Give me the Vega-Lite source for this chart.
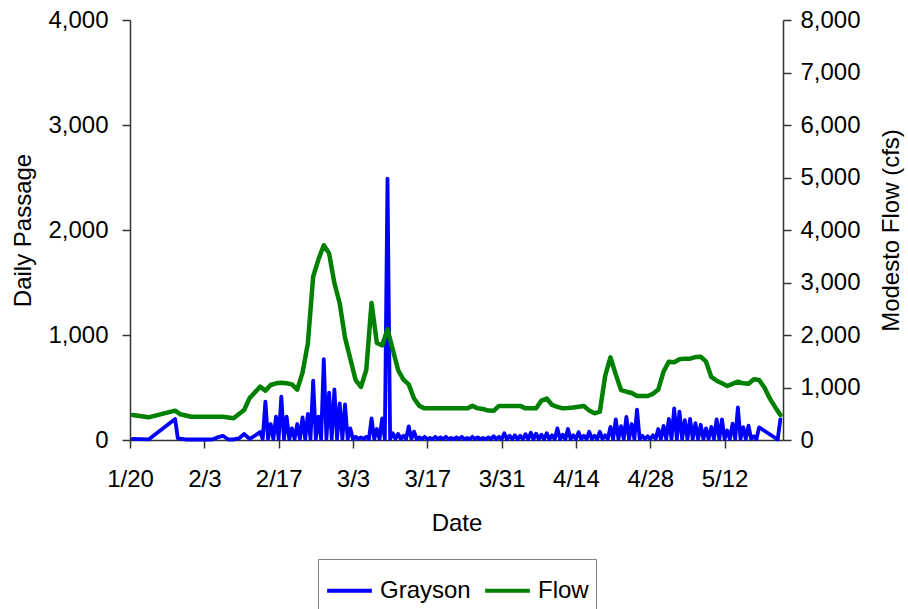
{
"$schema": "https://vega.github.io/schema/vega-lite/v6.json",
"width": 653, "height": 420,
"autosize": {"type": "none"},
"padding": {"left": 130, "top": 20, "right": 125, "bottom": 169},
"background": "white",
"config": {
  "view": {"stroke": null},
  "font": "Liberation Sans",
  "axis": {"grid": false, "domainColor": "#333333", "domainWidth": 1.5, "tickColor": "#333333", "tickWidth": 1.5, "tickSize": 8,
           "labelFont": "Liberation Sans", "labelFontSize": 24, "labelColor": "#000000",
           "titleFont": "Liberation Sans", "titleFontSize": 24, "titleFontWeight": "normal", "titleColor": "#000000"},
  "legend": {"labelFont": "Liberation Sans", "labelFontSize": 24, "labelColor": "#000000"}
},
"datasets": {
"grayson": [
{"t":"2007-01-20T12:00","v":10},{"t":"2007-01-23T12:00","v":5},{"t":"2007-01-28T12:00","v":200},{"t":"2007-01-29T00:00","v":16},
{"t":"2007-01-30T12:00","v":5},{"t":"2007-02-04T12:00","v":5},{"t":"2007-02-05T12:00","v":25},{"t":"2007-02-06T12:00","v":40},
{"t":"2007-02-07T12:00","v":5},{"t":"2007-02-08T12:00","v":5},{"t":"2007-02-09T12:00","v":15},{"t":"2007-02-10T12:00","v":57},
{"t":"2007-02-11T12:00","v":10},{"t":"2007-02-12T12:00","v":40},{"t":"2007-02-13T12:00","v":75},
{"t":"2007-02-14T00:00","v":10},{"t":"2007-02-14T12:00","v":365},
{"t":"2007-02-15T00:00","v":10},{"t":"2007-02-15T12:00","v":152},
{"t":"2007-02-16T00:00","v":10},{"t":"2007-02-16T12:00","v":222},
{"t":"2007-02-17T00:00","v":10},{"t":"2007-02-17T12:00","v":413},
{"t":"2007-02-18T00:00","v":10},{"t":"2007-02-18T12:00","v":222},
{"t":"2007-02-19T00:00","v":10},{"t":"2007-02-19T12:00","v":111},
{"t":"2007-02-20T00:00","v":10},{"t":"2007-02-20T12:00","v":152},
{"t":"2007-02-21T00:00","v":10},{"t":"2007-02-21T12:00","v":216},
{"t":"2007-02-22T00:00","v":10},{"t":"2007-02-22T12:00","v":248},
{"t":"2007-02-23T00:00","v":10},{"t":"2007-02-23T12:00","v":565},
{"t":"2007-02-24T00:00","v":10},{"t":"2007-02-24T12:00","v":222},
{"t":"2007-02-25T00:00","v":10},{"t":"2007-02-25T12:00","v":771},
{"t":"2007-02-26T00:00","v":10},{"t":"2007-02-26T12:00","v":451},
{"t":"2007-02-27T00:00","v":10},{"t":"2007-02-27T12:00","v":483},
{"t":"2007-02-28T00:00","v":10},{"t":"2007-02-28T12:00","v":349},
{"t":"2007-03-01T00:00","v":10},{"t":"2007-03-01T12:00","v":340},
{"t":"2007-03-02T00:00","v":10},{"t":"2007-03-02T12:00","v":111},
{"t":"2007-03-03T00:00","v":10},{"t":"2007-03-03T12:00","v":30},
{"t":"2007-03-04T00:00","v":10},{"t":"2007-03-04T12:00","v":25},
{"t":"2007-03-05T00:00","v":10},{"t":"2007-03-05T12:00","v":30},
{"t":"2007-03-06T00:00","v":10},{"t":"2007-03-06T12:00","v":206},
{"t":"2007-03-07T00:00","v":10},{"t":"2007-03-07T12:00","v":105},
{"t":"2007-03-08T00:00","v":10},{"t":"2007-03-08T12:00","v":206},
{"t":"2007-03-09T00:00","v":10},{"t":"2007-03-09T12:00","v":2490},
{"t":"2007-03-10T00:00","v":10},{"t":"2007-03-10T12:00","v":65},
{"t":"2007-03-11T00:00","v":10},{"t":"2007-03-11T12:00","v":57},
{"t":"2007-03-12T00:00","v":10},{"t":"2007-03-12T12:00","v":40},
{"t":"2007-03-13T00:00","v":10},{"t":"2007-03-13T12:00","v":130},
{"t":"2007-03-14T00:00","v":10},{"t":"2007-03-14T12:00","v":80},
{"t":"2007-03-15T00:00","v":8},{"t":"2007-03-15T12:00","v":25},
{"t":"2007-03-16T00:00","v":8},{"t":"2007-03-16T12:00","v":30},
{"t":"2007-03-17T00:00","v":8},{"t":"2007-03-17T12:00","v":20},
{"t":"2007-03-18T00:00","v":8},{"t":"2007-03-18T12:00","v":30},
{"t":"2007-03-19T00:00","v":8},{"t":"2007-03-19T12:00","v":25},
{"t":"2007-03-20T00:00","v":8},{"t":"2007-03-20T12:00","v":30},
{"t":"2007-03-21T00:00","v":8},{"t":"2007-03-21T12:00","v":20},
{"t":"2007-03-22T00:00","v":8},{"t":"2007-03-22T12:00","v":25},
{"t":"2007-03-23T00:00","v":8},{"t":"2007-03-23T12:00","v":30},
{"t":"2007-03-24T00:00","v":8},{"t":"2007-03-24T12:00","v":20},
{"t":"2007-03-25T00:00","v":8},{"t":"2007-03-25T12:00","v":30},
{"t":"2007-03-26T00:00","v":8},{"t":"2007-03-26T12:00","v":25},
{"t":"2007-03-27T00:00","v":8},{"t":"2007-03-27T12:00","v":20},
{"t":"2007-03-28T00:00","v":8},{"t":"2007-03-28T12:00","v":25},
{"t":"2007-03-29T00:00","v":8},{"t":"2007-03-29T12:00","v":35},
{"t":"2007-03-30T00:00","v":8},{"t":"2007-03-30T12:00","v":30},
{"t":"2007-03-31T00:00","v":8},{"t":"2007-03-31T12:00","v":65},
{"t":"2007-04-01T00:00","v":8},{"t":"2007-04-01T12:00","v":40},
{"t":"2007-04-02T00:00","v":8},{"t":"2007-04-02T12:00","v":45},
{"t":"2007-04-03T00:00","v":8},{"t":"2007-04-03T12:00","v":40},
{"t":"2007-04-04T00:00","v":8},{"t":"2007-04-04T12:00","v":55},
{"t":"2007-04-05T00:00","v":8},{"t":"2007-04-05T12:00","v":70},
{"t":"2007-04-06T00:00","v":8},{"t":"2007-04-06T12:00","v":60},
{"t":"2007-04-07T00:00","v":8},{"t":"2007-04-07T12:00","v":50},
{"t":"2007-04-08T00:00","v":8},{"t":"2007-04-08T12:00","v":65},
{"t":"2007-04-09T00:00","v":8},{"t":"2007-04-09T12:00","v":45},
{"t":"2007-04-10T00:00","v":8},{"t":"2007-04-10T12:00","v":110},
{"t":"2007-04-11T00:00","v":8},{"t":"2007-04-11T12:00","v":50},
{"t":"2007-04-12T00:00","v":8},{"t":"2007-04-12T12:00","v":105},
{"t":"2007-04-13T00:00","v":8},{"t":"2007-04-13T12:00","v":45},
{"t":"2007-04-14T00:00","v":8},{"t":"2007-04-14T12:00","v":75},
{"t":"2007-04-15T00:00","v":8},{"t":"2007-04-15T12:00","v":40},
{"t":"2007-04-16T00:00","v":8},{"t":"2007-04-16T12:00","v":79},
{"t":"2007-04-17T00:00","v":8},{"t":"2007-04-17T12:00","v":40},
{"t":"2007-04-18T00:00","v":8},{"t":"2007-04-18T12:00","v":79},
{"t":"2007-04-19T00:00","v":8},{"t":"2007-04-19T12:00","v":45},
{"t":"2007-04-20T00:00","v":10},{"t":"2007-04-20T12:00","v":125},
{"t":"2007-04-21T00:00","v":10},{"t":"2007-04-21T12:00","v":197},
{"t":"2007-04-22T00:00","v":10},{"t":"2007-04-22T12:00","v":132},
{"t":"2007-04-23T00:00","v":10},{"t":"2007-04-23T12:00","v":220},
{"t":"2007-04-24T00:00","v":10},{"t":"2007-04-24T12:00","v":152},
{"t":"2007-04-25T00:00","v":10},{"t":"2007-04-25T12:00","v":290},
{"t":"2007-04-26T00:00","v":10},{"t":"2007-04-26T12:00","v":40},
{"t":"2007-04-27T00:00","v":10},{"t":"2007-04-27T12:00","v":35},
{"t":"2007-04-28T00:00","v":10},{"t":"2007-04-28T12:00","v":45},
{"t":"2007-04-29T00:00","v":10},{"t":"2007-04-29T12:00","v":105},
{"t":"2007-04-30T00:00","v":10},{"t":"2007-04-30T12:00","v":135},
{"t":"2007-05-01T00:00","v":10},{"t":"2007-05-01T12:00","v":200},
{"t":"2007-05-02T00:00","v":10},{"t":"2007-05-02T12:00","v":302},
{"t":"2007-05-03T00:00","v":10},{"t":"2007-05-03T12:00","v":270},
{"t":"2007-05-04T00:00","v":10},{"t":"2007-05-04T12:00","v":190},
{"t":"2007-05-05T00:00","v":10},{"t":"2007-05-05T12:00","v":200},
{"t":"2007-05-06T00:00","v":10},{"t":"2007-05-06T12:00","v":160},
{"t":"2007-05-07T00:00","v":10},{"t":"2007-05-07T12:00","v":145},
{"t":"2007-05-08T00:00","v":10},{"t":"2007-05-08T12:00","v":111},
{"t":"2007-05-09T00:00","v":10},{"t":"2007-05-09T12:00","v":125},
{"t":"2007-05-10T00:00","v":10},{"t":"2007-05-10T12:00","v":197},
{"t":"2007-05-11T00:00","v":10},{"t":"2007-05-11T12:00","v":197},
{"t":"2007-05-12T00:00","v":10},{"t":"2007-05-12T12:00","v":90},
{"t":"2007-05-13T00:00","v":10},{"t":"2007-05-13T12:00","v":155},
{"t":"2007-05-14T00:00","v":10},{"t":"2007-05-14T12:00","v":311},
{"t":"2007-05-15T00:00","v":10},{"t":"2007-05-15T12:00","v":123},
{"t":"2007-05-16T00:00","v":10},{"t":"2007-05-16T12:00","v":137},
{"t":"2007-05-17T00:00","v":10},{"t":"2007-05-17T12:00","v":35},
{"t":"2007-05-18T00:00","v":10},{"t":"2007-05-18T12:00","v":120},
{"t":"2007-05-22T00:00","v":5},{"t":"2007-05-22T12:00","v":197}
],
"flow": [
{"t":"2007-01-20T12:00","f":476},{"t":"2007-01-23T12:00","f":432},{"t":"2007-01-28T12:00","f":559},{"t":"2007-01-29T12:00","f":490},
{"t":"2007-01-31T12:00","f":444},{"t":"2007-02-06T12:00","f":444},{"t":"2007-02-08T12:00","f":413},{"t":"2007-02-10T12:00","f":571},
{"t":"2007-02-11T12:00","f":794},{"t":"2007-02-13T12:00","f":1016},{"t":"2007-02-14T12:00","f":940},{"t":"2007-02-15T12:00","f":1048},
{"t":"2007-02-16T12:00","f":1080},{"t":"2007-02-17T12:00","f":1092},{"t":"2007-02-18T12:00","f":1080},{"t":"2007-02-19T12:00","f":1060},
{"t":"2007-02-20T12:00","f":960},{"t":"2007-02-21T12:00","f":1283},{"t":"2007-02-22T12:00","f":1841},{"t":"2007-02-23T12:00","f":3111},
{"t":"2007-02-24T12:00","f":3440},{"t":"2007-02-25T12:00","f":3710},{"t":"2007-02-26T12:00","f":3556},{"t":"2007-02-27T12:00","f":2990},
{"t":"2007-02-28T12:00","f":2604},{"t":"2007-03-01T12:00","f":1950},{"t":"2007-03-03T12:00","f":1143},{"t":"2007-03-04T12:00","f":1010},
{"t":"2007-03-05T12:00","f":1333},{"t":"2007-03-06T12:00","f":2610},{"t":"2007-03-07T12:00","f":1848},{"t":"2007-03-08T12:00","f":1800},
{"t":"2007-03-09T12:00","f":2110},{"t":"2007-03-11T12:00","f":1333},{"t":"2007-03-12T12:00","f":1150},{"t":"2007-03-13T12:00","f":1060},
{"t":"2007-03-14T12:00","f":790},{"t":"2007-03-15T12:00","f":650},{"t":"2007-03-16T12:00","f":603},{"t":"2007-03-24T12:00","f":603},
{"t":"2007-03-25T12:00","f":650},{"t":"2007-03-26T12:00","f":603},{"t":"2007-03-27T12:00","f":590},{"t":"2007-03-28T12:00","f":560},
{"t":"2007-03-29T12:00","f":555},{"t":"2007-03-30T12:00","f":650},{"t":"2007-04-03T12:00","f":650},{"t":"2007-04-04T12:00","f":603},
{"t":"2007-04-06T12:00","f":603},{"t":"2007-04-07T12:00","f":750},{"t":"2007-04-08T12:00","f":790},{"t":"2007-04-09T12:00","f":667},
{"t":"2007-04-10T12:00","f":630},{"t":"2007-04-11T12:00","f":603},{"t":"2007-04-12T12:00","f":610},{"t":"2007-04-13T12:00","f":620},
{"t":"2007-04-14T12:00","f":635},{"t":"2007-04-15T12:00","f":648},{"t":"2007-04-16T12:00","f":560},{"t":"2007-04-17T12:00","f":508},
{"t":"2007-04-18T12:00","f":540},{"t":"2007-04-19T12:00","f":1220},{"t":"2007-04-20T12:00","f":1575},{"t":"2007-04-21T12:00","f":1250},
{"t":"2007-04-22T12:00","f":950},{"t":"2007-04-23T12:00","f":920},{"t":"2007-04-24T12:00","f":895},{"t":"2007-04-25T12:00","f":838},
{"t":"2007-04-26T12:00","f":838},{"t":"2007-04-27T12:00","f":838},{"t":"2007-04-28T12:00","f":880},{"t":"2007-04-29T12:00","f":960},
{"t":"2007-04-30T12:00","f":1302},{"t":"2007-05-01T12:00","f":1492},{"t":"2007-05-02T12:00","f":1480},{"t":"2007-05-03T12:00","f":1537},
{"t":"2007-05-04T12:00","f":1550},{"t":"2007-05-05T12:00","f":1550},{"t":"2007-05-06T12:00","f":1580},{"t":"2007-05-07T12:00","f":1587},
{"t":"2007-05-08T12:00","f":1492},{"t":"2007-05-09T12:00","f":1200},{"t":"2007-05-10T12:00","f":1130},{"t":"2007-05-11T12:00","f":1080},
{"t":"2007-05-12T12:00","f":1029},{"t":"2007-05-13T12:00","f":1070},{"t":"2007-05-14T12:00","f":1111},{"t":"2007-05-15T12:00","f":1079},
{"t":"2007-05-16T12:00","f":1070},{"t":"2007-05-17T12:00","f":1156},{"t":"2007-05-18T12:00","f":1143},{"t":"2007-05-19T12:00","f":1000},
{"t":"2007-05-20T12:00","f":794},{"t":"2007-05-21T12:00","f":630},{"t":"2007-05-22T12:00","f":476}
]
},
"encoding": {
  "x": {"field": "t", "type": "temporal",
        "scale": {"domain": [{"year": 2007, "month": 1, "date": 20}, {"year": 2007, "month": 5, "date": 23}]},
        "axis": {"title": "Date", "format": "%-m/%-d", "labelPadding": 19, "titlePadding": 20, "labelFlush": false, "labelOverlap": false,
                 "values": [{"year": 2007, "month": 1, "date": 20}, {"year": 2007, "month": 2, "date": 3}, {"year": 2007, "month": 2, "date": 17},
                            {"year": 2007, "month": 3, "date": 3}, {"year": 2007, "month": 3, "date": 17}, {"year": 2007, "month": 3, "date": 31},
                            {"year": 2007, "month": 4, "date": 14}, {"year": 2007, "month": 4, "date": 28}, {"year": 2007, "month": 5, "date": 12}]}}
},
"layer": [
  {"data": {"name": "grayson"},
   "mark": {"type": "line", "strokeWidth": 3.8, "strokeJoin": "round", "strokeCap": "round"},
   "encoding": {
     "y": {"field": "v", "type": "quantitative", "scale": {"domain": [0, 4000], "nice": false},
           "axis": {"title": "Daily Passage", "orient": "left", "values": [0, 1000, 2000, 3000, 4000], "format": ",.0f", "labelPadding": 14, "titlePadding": 12}},
     "color": {"datum": "Grayson", "type": "nominal",
               "scale": {"domain": ["Grayson", "Flow"], "range": ["#0000ff", "#008000"]},
               "legend": {"title": null, "orient": "none", "legendX": 188, "legendY": 539, "direction": "horizontal",
                          "symbolType": "stroke", "symbolSize": 2000, "symbolStrokeWidth": 4,
                          "strokeColor": "#808080", "fillColor": "#ffffff", "padding": 7,
                          "labelOffset": 6, "columnPadding": 6}}
   }},
  {"data": {"name": "flow"},
   "mark": {"type": "line", "strokeWidth": 4.5, "strokeJoin": "round", "strokeCap": "round"},
   "encoding": {
     "y": {"field": "f", "type": "quantitative", "scale": {"domain": [0, 8000], "nice": false},
           "axis": {"title": "Modesto Flow (cfs)", "orient": "right", "values": [0, 1000, 2000, 3000, 4000, 5000, 6000, 7000, 8000], "format": ",.0f",
                    "labelPadding": 9, "titlePadding": 19, "titleAngle": 270, "titleBaseline": "top"}},
     "color": {"datum": "Flow", "type": "nominal"}
   }}
],
"resolve": {"scale": {"y": "independent"}}
}
